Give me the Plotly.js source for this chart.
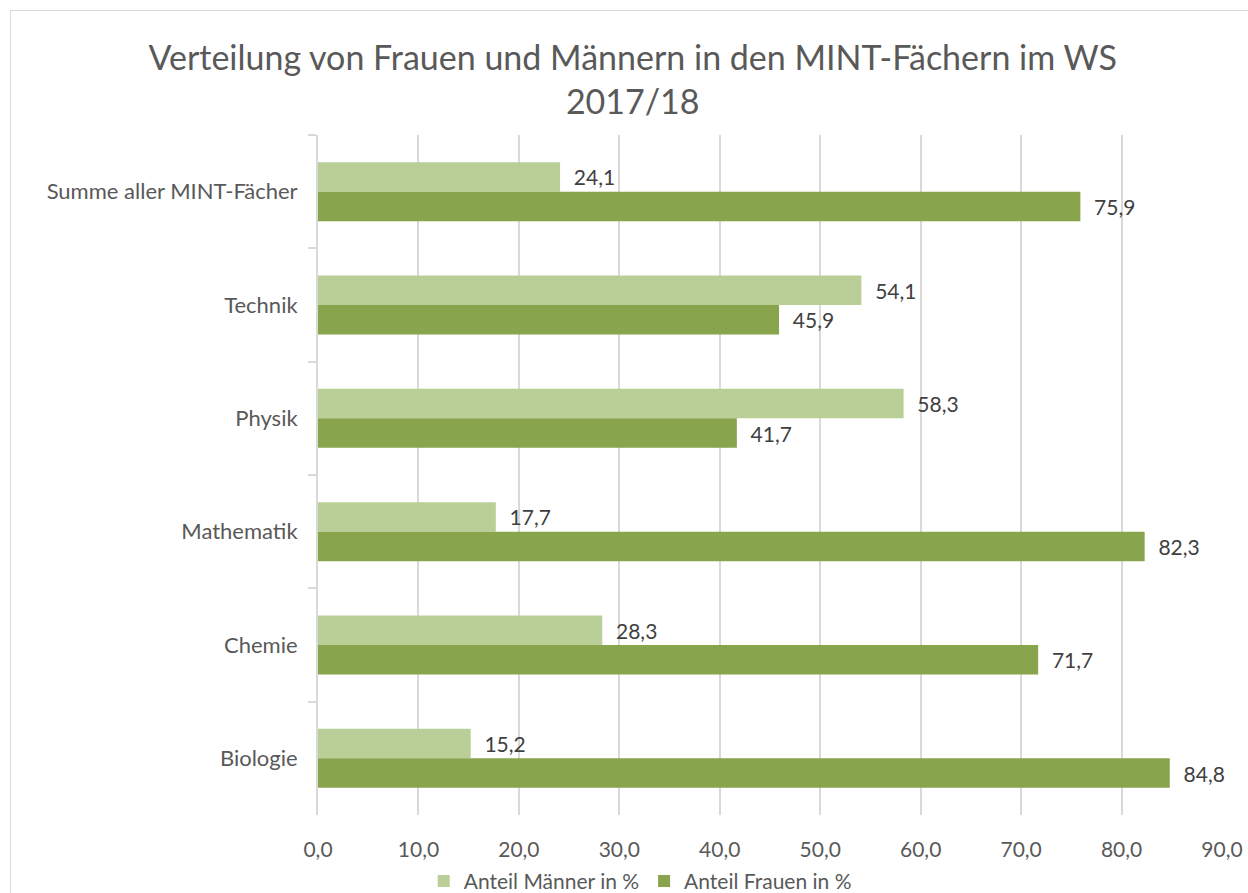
<!DOCTYPE html>
<html>
<head>
<meta charset="utf-8">
<script src="https://cdn.plot.ly/plotly-3.0.1.min.js"></script>
<style>
  html, body { margin: 0; padding: 0; background: #fff; }
  #chart { width: 1248px; height: 893px; position: absolute; left: 0; top: 0; }
  #frame { position: absolute; left: 10px; top: 10px; width: 1260px; height: 900px; border: 1px solid #d9d9d9; pointer-events: none; }
</style>
</head>
<body>
<div id="chart"></div>
<div id="frame"></div>
<script>
const categories = ["Summe aller MINT-Fächer", "Technik", "Physik", "Mathematik", "Chemie", "Biologie"];
const maenner = [24.1, 54.1, 58.3, 17.7, 28.3, 15.2];
const frauen = [75.9, 45.9, 41.7, 82.3, 71.7, 84.8];
const seriesNames = ["Anteil Männer in %", "Anteil Frauen in %"];
const xTicks = [0, 10, 20, 30, 40, 50, 60, 70, 80, 90];

const fontFamily = "Lato, 'Open Sans', sans-serif";

const traces = [
  {
    type: "bar", orientation: "h", name: seriesNames[0],
    y: categories, x: maenner,
    marker: { color: "#b9cf97" },
    texttemplate: "\u00a0\u00a0%{x:.1f}", textposition: "outside",
    textfont: { family: fontFamily, size: 21, color: "#404040" },
    cliponaxis: false, hoverinfo: "x+y"
  },
  {
    type: "bar", orientation: "h", name: seriesNames[1],
    y: categories, x: frauen,
    marker: { color: "#88a44d" },
    texttemplate: "\u00a0\u00a0%{x:.1f}", textposition: "outside",
    textfont: { family: fontFamily, size: 21, color: "#404040" },
    cliponaxis: false, hoverinfo: "x+y"
  }
];

const layout = {
  width: 1248, height: 893,
  margin: { l: 318, r: 26, t: 135, b: 78 },
  paper_bgcolor: "#ffffff", plot_bgcolor: "#ffffff",
  separators: ",.",
  font: { family: fontFamily, color: "#595959", size: 21 },
  title: {
    text: "Verteilung von Frauen und Männern in den MINT-Fächern im WS<br>2017/18",
    font: { family: fontFamily, size: 34, color: "#595959" },
    xref: "container", x: 0.507, xanchor: "center",
    yref: "container", y: 0.922, yanchor: "top"
  },
  barmode: "group",
  bargap: 0.48,
  bargroupgap: 0,
  xaxis: {
    range: [0, 90],
    tickvals: xTicks,
    tickformat: ".1f",
    showgrid: true, gridcolor: "#d9d9d9", gridwidth: 2,
    zeroline: false, showline: false,
    ticks: "", ticklabelstandoff: 20,
    tickfont: { family: fontFamily, size: 21, color: "#595959" },
    fixedrange: true
  },
  yaxis: {
    type: "category",
    categoryorder: "array", categoryarray: categories,
    autorange: "reversed",
    showline: true, linecolor: "#d9d9d9", linewidth: 2,
    showgrid: false, zeroline: false,
    ticks: "outside", tickson: "boundaries", ticklen: 8, tickcolor: "#d9d9d9", tickwidth: 2,
    ticklabelstandoff: 14,
    tickfont: { family: fontFamily, size: 22, color: "#595959" },
    fixedrange: true
  },
  showlegend: true,
  legend: {
    orientation: "h",
    bgcolor: "rgba(0,0,0,0)",
    xref: "container", x: 0.513, xanchor: "center",
    yref: "container", y: 0.036, yanchor: "top",
    font: { family: fontFamily, size: 21, color: "#595959" },
    itemwidth: 30, tracegroupgap: 0
  }
};

Plotly.newPlot("chart", traces, layout, { displayModeBar: false, staticPlot: true });
</script>
</body>
</html>
